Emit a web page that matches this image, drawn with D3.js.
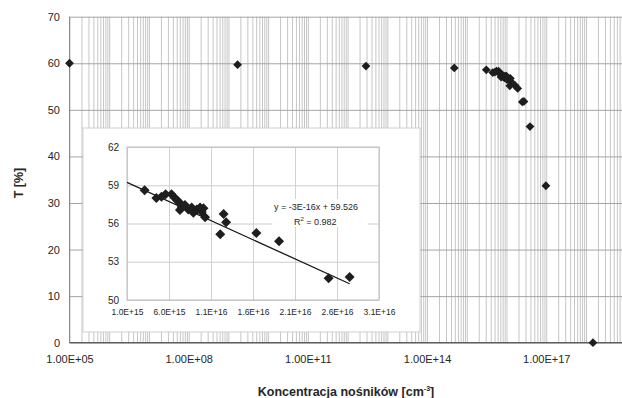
<!DOCTYPE html>
<html>
<head>
<meta charset="utf-8">
<script src="https://cdn.jsdelivr.net/npm/d3@7"></script>
<style>
  body { margin: 0; background: #fff; }
  svg { display: block; font-family: "Liberation Sans", Arial, sans-serif; }
</style>
</head>
<body>
<svg id="chart" width="622" height="398"></svg>
<script>
// Transmittance T [%] against carrier concentration [cm^-3]
// Samples outside the dense high-concentration group
const sparseConcentration = [1e5, 1.7e9, 2.9e12, 4.85e14, 3.9e16, 9.8e16, 1.5e18];
const sparseTransmittance = [60.0, 59.7, 59.4, 59.0, 46.4, 33.7, 0.0];

// Dense group (shown again in the inset on a linear axis)
const groupConcentration = [3.1e15, 4.5e15, 5.1e15, 5.6e15, 6.3e15, 6.7e15, 7.0e15, 7.3e15, 7.5e15,
  7.3e15, 7.9e15, 8.3e15, 8.7e15, 8.9e15, 9.3e15, 9.7e15, 9.9e15, 1.01e16, 1.03e16,
  1.25e16, 1.28e16, 1.21e16, 1.64e16, 1.91e16, 2.5e16, 2.75e16];
const groupTransmittance = [58.6, 58.0, 58.1, 58.3, 58.3, 58.0, 57.8, 57.6, 57.3,
  57.05, 57.45, 57.1, 57.25, 56.85, 57.1, 57.25, 56.9, 57.2, 56.5,
  56.75, 56.1, 55.15, 55.25, 54.6, 51.7, 51.8];

// Linear trend fitted to the dense group
const trendSlope = -3e-16;
const trendIntercept = 59.526;
const trendR2 = 0.982;

// Axis ticks
const mainXTicks = [1e5, 1e8, 1e11, 1e14, 1e17];
const mainYTicks = [0, 10, 20, 30, 40, 50, 60, 70];
const insetXTicks = [1e15, 6e15, 1.1e16, 1.6e16, 2.1e16, 2.6e16, 3.1e16];
const insetYTicks = [50, 53, 56, 59, 62];

const svg = d3.select("#chart");
const textColor = "#262626";

// Excel-style scientific labels: 1.00E+05
function sci(v, digits) {
  const [m, e] = v.toExponential(digits).split("e");
  const n = Math.abs(+e);
  return m + "E" + (+e < 0 ? "-" : "+") + (n < 10 ? "0" + n : n);
}

function diamond(r) {
  return `M0,${-r}L${r},0L0,${r}L${-r},0Z`;
}

// ---------- main chart ----------
const plot = { left: 69.5, right: 625.7, top: 16.7, bottom: 342.7 };
const x = d3.scaleLog().domain([1e5, 1e19]).range([plot.left, plot.right]);
const y = d3.scaleLinear().domain([0, 70]).range([plot.bottom, plot.top]);

// vertical gridlines at every 1..9 x 10^n
const minorX = [];
for (let p = 5; p < 19; p++) for (let k = 1; k <= 9; k++) minorX.push(k * Math.pow(10, p));
minorX.push(1e19);

const gMain = svg.append("g");

gMain.append("g")
  .attr("transform", `translate(0,${plot.bottom})`)
  .call(d3.axisBottom(x).tickValues(minorX).tickSize(-(plot.bottom - plot.top)).tickFormat(""))
  .call(g => g.select(".domain").remove())
  .call(g => g.selectAll("line").attr("stroke", "#c6c6c6").attr("stroke-width", 1));

gMain.append("g")
  .attr("transform", `translate(${plot.left},0)`)
  .call(d3.axisLeft(y).tickValues(mainYTicks).tickSize(-(plot.right - plot.left)).tickFormat(""))
  .call(g => g.select(".domain").remove())
  .call(g => g.selectAll("line").attr("stroke", "#a4a4a4").attr("stroke-width", 1));

// axis lines
gMain.append("line")
  .attr("x1", plot.left).attr("x2", plot.left)
  .attr("y1", plot.top).attr("y2", plot.bottom)
  .attr("stroke", "#8a8a8a");
gMain.append("line")
  .attr("x1", plot.left).attr("x2", plot.right)
  .attr("y1", plot.bottom).attr("y2", plot.bottom)
  .attr("stroke", "#5e5e5e").attr("stroke-width", 1.3);

// tick labels
gMain.append("g")
  .attr("transform", `translate(0,${plot.bottom})`)
  .call(d3.axisBottom(x).tickValues(mainXTicks).tickSize(0).tickPadding(12.5).tickFormat(d => sci(d, 2)))
  .call(g => g.select(".domain").remove())
  .call(g => g.selectAll("text").attr("font-size", 11).attr("fill", textColor).attr("font-family", null));

gMain.append("g")
  .attr("transform", `translate(${plot.left},0)`)
  .call(d3.axisLeft(y).tickValues(mainYTicks).tickSize(0).tickPadding(9.5))
  .call(g => g.select(".domain").remove())
  .call(g => g.selectAll("text").attr("font-size", 11).attr("fill", textColor).attr("font-family", null));

// axis titles
const xTitle = svg.append("text")
  .attr("x", 346).attr("y", 396)
  .attr("text-anchor", "middle")
  .attr("font-size", 12.5).attr("font-weight", "bold").attr("fill", textColor)
  .text("Koncentracja nośników [cm");
xTitle.append("tspan").attr("font-size", 7).attr("dy", -5).text("-3");
xTitle.append("tspan").attr("dy", 5).text("]");

svg.append("text")
  .attr("transform", "translate(23,183) rotate(-90)")
  .attr("text-anchor", "middle")
  .attr("font-size", 12.5).attr("font-weight", "bold").attr("fill", textColor)
  .text("T [%]");

// main markers
const mainPoints = d3.zip(sparseConcentration, sparseTransmittance)
  .concat(d3.zip(groupConcentration, groupTransmittance));
gMain.append("g").selectAll("path")
  .data(mainPoints)
  .join("path")
  .attr("transform", d => `translate(${x(d[0])},${y(d[1])})`)
  .attr("d", diamond(4.4))
  .attr("fill", "#1e1e1e");

// ---------- inset ----------
const box = { left: 83, right: 420, top: 128, bottom: 332 };
const ip = { left: 127, right: 379, top: 147, bottom: 300 };
const xi = d3.scaleLinear().domain([1e15, 3.1e16]).range([ip.left, ip.right]);
const yi = d3.scaleLinear().domain([50, 62]).range([ip.bottom, ip.top]);

const gInset = svg.append("g");
gInset.append("rect")
  .attr("x", box.left).attr("y", box.top)
  .attr("width", box.right - box.left).attr("height", box.bottom - box.top)
  .attr("fill", "#fff").attr("stroke", "#cfcfcf");

gInset.append("g")
  .attr("transform", `translate(0,${ip.bottom})`)
  .call(d3.axisBottom(xi).tickValues(insetXTicks).tickSize(-(ip.bottom - ip.top)).tickFormat(""))
  .call(g => g.select(".domain").remove())
  .call(g => g.selectAll("line").attr("stroke", "#d2d2d2"));

gInset.append("g")
  .attr("transform", `translate(${ip.left},0)`)
  .call(d3.axisLeft(yi).tickValues(insetYTicks).tickSize(-(ip.right - ip.left)).tickFormat(""))
  .call(g => g.select(".domain").remove())
  .call(g => g.selectAll("line").attr("stroke", "#cccccc"));

gInset.append("rect")
  .attr("x", ip.left).attr("y", ip.top)
  .attr("width", ip.right - ip.left).attr("height", ip.bottom - ip.top)
  .attr("fill", "none").attr("stroke", "#bdbdbd");

gInset.append("g")
  .attr("transform", `translate(0,${ip.bottom})`)
  .call(d3.axisBottom(xi).tickValues(insetXTicks).tickSize(0).tickPadding(8.5).tickFormat(d => sci(d, 1)))
  .call(g => g.select(".domain").remove())
  .call(g => g.selectAll("text").attr("font-size", 8.5).attr("fill", textColor).attr("font-family", null));

gInset.append("g")
  .attr("transform", `translate(${ip.left},0)`)
  .call(d3.axisLeft(yi).tickValues(insetYTicks).tickSize(0).tickPadding(8))
  .call(g => g.select(".domain").remove())
  .call(g => g.selectAll("text").attr("font-size", 10).attr("fill", textColor).attr("font-family", null));

// trend line across the fitted range
const xTrend = [1e15, d3.max(groupConcentration)];
gInset.append("line")
  .attr("x1", xi(xTrend[0])).attr("y1", yi(trendSlope * xTrend[0] + trendIntercept))
  .attr("x2", xi(xTrend[1])).attr("y2", yi(trendSlope * xTrend[1] + trendIntercept))
  .attr("stroke", "#1a1a1a").attr("stroke-width", 1.3);

// trend equation label
const eq = gInset.append("g");
eq.append("rect").attr("x", 272).attr("y", 199).attr("width", 96).attr("height", 28).attr("fill", "#fff");
eq.append("text").attr("x", 274).attr("y", 209.5)
  .attr("font-size", 9).attr("fill", textColor)
  .text(`y = ${sci(trendSlope, 0)}x + ${trendIntercept}`);
const r2 = eq.append("text").attr("x", 294).attr("y", 224.5)
  .attr("font-size", 9).attr("fill", textColor).text("R");
r2.append("tspan").attr("font-size", 6).attr("dy", -3.5).text("2");
r2.append("tspan").attr("dy", 3.5).text(` = ${trendR2}`);

gInset.append("g").selectAll("path")
  .data(d3.zip(groupConcentration, groupTransmittance))
  .join("path")
  .attr("transform", d => `translate(${xi(d[0])},${yi(d[1])})`)
  .attr("d", diamond(5))
  .attr("fill", "#1e1e1e");
</script>
</body>
</html>
